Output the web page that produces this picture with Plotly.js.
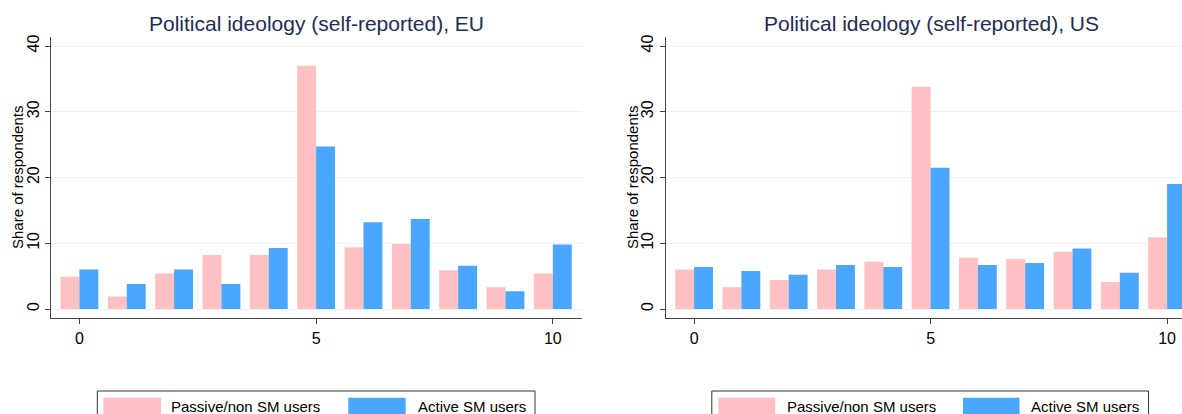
<!DOCTYPE html>
<html>
<head>
<meta charset="utf-8">
<script src="https://cdn.plot.ly/plotly-3.0.1.min.js"></script>
<style>html,body{margin:0;padding:0;background:#fff;}#chart{width:1182px;height:414px;}</style>
</head>
<body>
<div id="chart"></div>
<script>
// ---- data ----
const categories = [0, 1, 2, 3, 4, 5, 6, 7, 8, 9, 10];
const euPassive = [4.9, 1.9, 5.4, 8.2, 8.2, 37.0, 9.4, 9.9, 5.9, 3.3, 5.4];
const euActive  = [6.0, 3.8, 6.0, 3.8, 9.3, 24.7, 13.2, 13.7, 6.6, 2.7, 9.8];
const usPassive = [6.0, 3.3, 4.4, 6.0, 7.2, 33.8, 7.8, 7.6, 8.7, 4.1, 10.9];
const usActive  = [6.4, 5.8, 5.2, 6.7, 6.4, 21.5, 6.7, 7.0, 9.2, 5.5, 19.0];
const seriesNames = ["Passive/non SM users", "Active SM users"];
const panelTitles = ["Political ideology (self-reported), EU", "Political ideology (self-reported), US"];
const xTicks = [0, 5, 10];
const yTicks = [0, 10, 20, 30, 40];
const yTitle = "Share of respondents";

// ---- style ----
const W = 1182, H = 414;
const PINK = "#ffc1c1", BLUE = "#4aa6ff";
const FONT = "Liberation Sans, Arial, sans-serif";
const px = x => x / W;
const py = y => 1 - y / H;

const traces = [
  {x: categories, y: euPassive, name: seriesNames[0], type: "bar", marker: {color: PINK}, xaxis: "x", yaxis: "y", showlegend: false},
  {x: categories, y: euActive,  name: seriesNames[1], type: "bar", marker: {color: BLUE}, xaxis: "x", yaxis: "y", showlegend: false},
  {x: categories, y: usPassive, name: seriesNames[0], type: "bar", marker: {color: PINK}, xaxis: "x2", yaxis: "y2", showlegend: false},
  {x: categories, y: usActive,  name: seriesNames[1], type: "bar", marker: {color: BLUE}, xaxis: "x2", yaxis: "y2", showlegend: false}
];

const xCommon = {
  tickmode: "array", tickvals: xTicks, ticktext: xTicks.map(String),
  ticks: "outside", ticklen: 5, tickcolor: "#444", tickwidth: 1,
  showline: true, linecolor: "#444", linewidth: 1,
  showgrid: false, zeroline: false,
  tickfont: {family: FONT, size: 16, color: "#000"},
  fixedrange: true
};
const yCommon = {
  range: [-1.41, 41.37],
  tickmode: "array", tickvals: yTicks, ticktext: yTicks.map(String),
  ticks: "outside", ticklen: 5, tickcolor: "#444", tickwidth: 1, tickangle: -90,
  showline: true, linecolor: "#444", linewidth: 1,
  showgrid: true, gridcolor: "#eaf2f3", gridwidth: 1, zeroline: false,
  tickfont: {family: FONT, size: 16, color: "#000"},
  domain: [py(318.3), py(37)],
  fixedrange: true
};

const layout = {
  width: W, height: H,
  margin: {l: 0, r: 0, t: 0, b: 0},
  paper_bgcolor: "#fff", plot_bgcolor: "#fff",
  barmode: "group", bargap: 0.2, bargroupgap: 0,
  showlegend: false,
  xaxis: Object.assign({}, xCommon, {domain: [px(51), px(581.7)], range: [-0.6, 10.61], anchor: "y"}),
  yaxis: Object.assign({}, yCommon, {anchor: "x"}),
  xaxis2: Object.assign({}, xCommon, {domain: [px(665.7), 1], range: [-0.6, 10.315], anchor: "y2"}),
  yaxis2: Object.assign({}, yCommon, {anchor: "x2"}),
  annotations: [],
  shapes: []
};

// panel titles and y-axis titles
[[316, 17, 0], [931, 632, 1]].forEach(([cx, yx, i]) => {
  layout.annotations.push({
    text: panelTitles[i], xref: "paper", yref: "paper", x: px(cx), y: py(23),
    xanchor: "center", yanchor: "middle", showarrow: false,
    font: {family: FONT, size: 21, color: "#1e2d52"}
  });
  layout.annotations.push({
    text: yTitle, xref: "paper", yref: "paper", x: px(yx), y: py(178),
    xanchor: "center", yanchor: "middle", showarrow: false, textangle: -90,
    font: {family: FONT, size: 15, color: "#000"}
  });
});

// legends (one per panel)
const legends = [
  {box: [97.3, 535], sw: [[103.3, 161], [348.3, 405.7]], tx: [169, 415.5]},
  {box: [711.8, 1148.5], sw: [[718.3, 775.3], [963, 1019.5]], tx: [785.5, 1029]}
];
legends.forEach(lg => {
  layout.shapes.push({type: "rect", xref: "paper", yref: "paper",
    x0: px(lg.box[0]), x1: px(lg.box[1]), y0: py(430), y1: py(391),
    line: {color: "#333", width: 1}, fillcolor: "rgba(255,255,255,0)"});
  [PINK, BLUE].forEach((c, k) => {
    layout.shapes.push({type: "rect", xref: "paper", yref: "paper",
      x0: px(lg.sw[k][0]), x1: px(lg.sw[k][1]), y0: py(425), y1: py(397.7),
      line: {width: 0}, fillcolor: c});
    layout.annotations.push({text: seriesNames[k], xref: "paper", yref: "paper",
      x: px(lg.tx[k]), y: py(406), xanchor: "left", yanchor: "middle", showarrow: false,
      font: {family: FONT, size: 15, color: "#000"}});
  });
});

Plotly.newPlot("chart", traces, layout, {staticPlot: true, displayModeBar: false});
</script>
</body>
</html>
